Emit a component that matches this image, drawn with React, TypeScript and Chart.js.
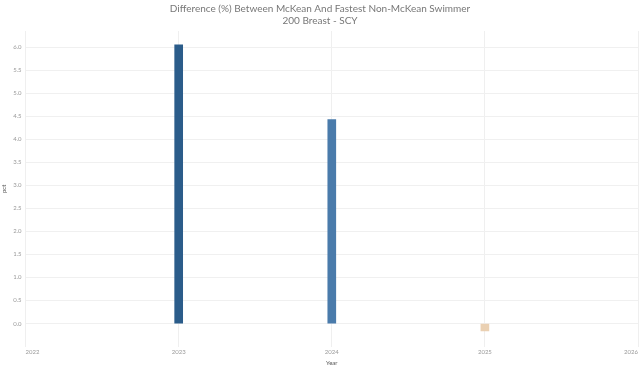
import React, { useEffect, useRef } from "react";
import { Chart, registerables } from "chart.js";

Chart.register(...registerables);

const years = [2023, 2024, 2025];
const pctValues = [6.05, 4.43, -0.16];
const barColors = ["#2b5c8a", "#4a7bab", "#ead0b2"];
const titleLines = ["Difference (%) Between McKean And Fastest Non-McKean Swimmer", "200 Breast - SCY"];

export default function App() {
  const ref = useRef<HTMLCanvasElement | null>(null);
  useEffect(() => {
    document.body.style.margin = "0";
    const ctx = ref.current!.getContext("2d")!;
    const chart = new Chart(ctx, {
      type: "bar",
      data: {
        datasets: [
          {
            data: years.map((y, i) => ({ x: y, y: pctValues[i] })),
            backgroundColor: barColors,
            borderWidth: 0,
            barThickness: 8,
          },
        ],
      },
      options: {
        animation: false,
        responsive: false,
        maintainAspectRatio: false,
        layout: { padding: { left: 0, right: 0, top: 2, bottom: 2 } },
        plugins: {
          legend: { display: false },
          tooltip: { enabled: false },
          title: {
            display: true,
            text: titleLines,
            color: "#777777",
            font: { family: "Lato", size: 10, weight: "normal" },
            padding: { top: 1, bottom: 4 },
            lineHeight: 1.15,
          },
        },
        scales: {
          x: {
            type: "linear",
            min: 2022,
            max: 2026,
            offset: false,
            ticks: {
              stepSize: 1,
              color: "#999999",
              font: { family: "Lato", size: 6 },
              callback: (v: any) => String(v),
              maxRotation: 0,
              align: "inner",
              padding: 2,
            },
            grid: { color: "#efefef", drawTicks: false, offset: false },
            border: { display: false },
            title: {
              display: true,
              text: "Year",
              color: "#555555",
              font: { family: "Lato", size: 6 },
              padding: { top: 2, bottom: 0 },
            },
          },
          y: {
            type: "linear",
            min: -0.5,
            max: 6.35,
            ticks: {
              stepSize: 0.5,
              color: "#999999",
              font: { family: "Lato", size: 6 },
              padding: 4,
              callback: (v: any) => {
                const n = Number(v);
                if (n < 0 || Math.abs(n * 2 - Math.round(n * 2)) > 1e-6) return "";
                return n.toFixed(1);
              },
            },
            grid: {
              drawTicks: false,
              color: (c: any) => {
                const n = c.tick ? c.tick.value : 0;
                if (n < 0 || Math.abs(n * 2 - Math.round(n * 2)) > 1e-6) return "rgba(0,0,0,0)";
                return "#f0f0f0";
              },
            },
            border: { display: false },
            title: {
              display: true,
              text: "pct",
              color: "#555555",
              font: { family: "Lato", size: 6 },
              padding: { top: 0, bottom: 2 },
            },
          },
        },
      },
    });
    return () => chart.destroy();
  }, []);
  return (
    <div style={{ width: 640, height: 369 }}>
      <canvas ref={ref} width={640} height={369} style={{ display: "block" }} />
    </div>
  );
}
